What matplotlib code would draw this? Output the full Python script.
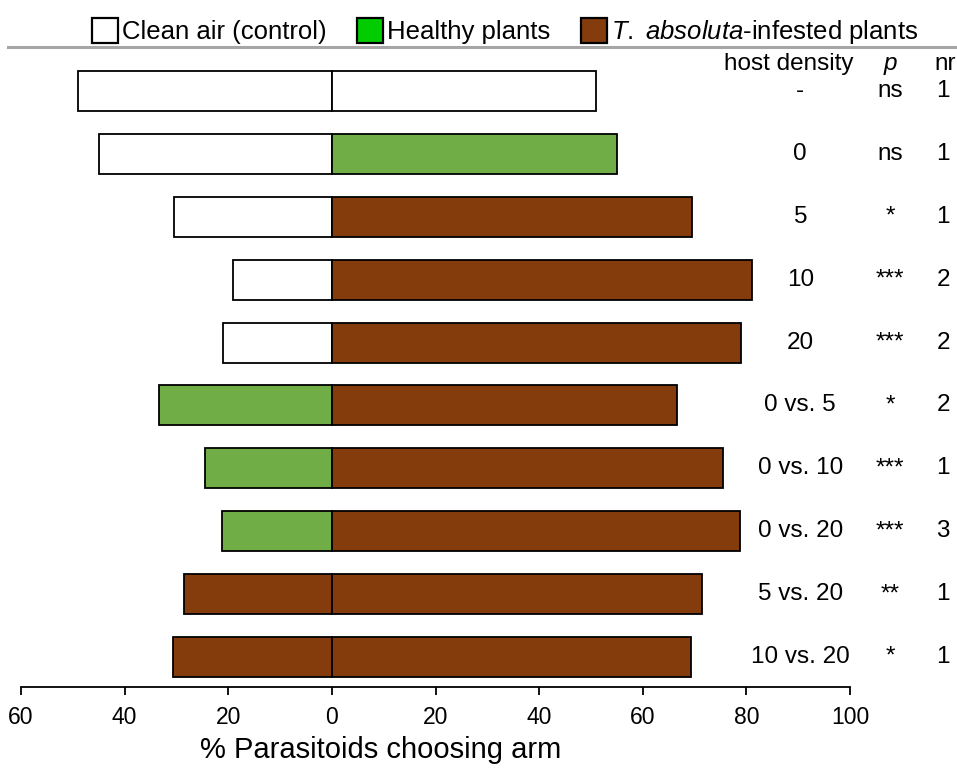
import matplotlib.pyplot as plt
from matplotlib.patches import Patch
from matplotlib.lines import Line2D

plt.rcParams['font.family'] = ['Liberation Sans', 'DejaVu Sans']
plt.rcParams['mathtext.fontset'] = 'custom'
plt.rcParams['mathtext.it'] = 'Liberation Sans:italic'
plt.rcParams['mathtext.rm'] = 'Liberation Sans'

# host density comparisons, top to bottom
density = ['-', '0', '5', '10', '20', '0 vs. 5', '0 vs. 10', '0 vs. 20', '5 vs. 20', '10 vs. 20']
left_pct = [49, 45, 30.5, 19, 21, 33.3, 24.5, 21.2, 28.6, 30.6]
right_pct = [51, 55, 69.5, 81, 79, 66.7, 75.5, 78.8, 71.4, 69.4]
left_odour = ['control', 'control', 'control', 'control', 'control',
              'healthy', 'healthy', 'healthy', 'infested', 'infested']
right_odour = ['control', 'healthy', 'infested', 'infested', 'infested',
               'infested', 'infested', 'infested', 'infested', 'infested']
p_value = ['ns', 'ns', '*', '***', '***', '*', '***', '***', '**', '*']
nr = ['1', '1', '1', '2', '2', '2', '1', '3', '1', '1']

colors = {'control': 'white', 'healthy': '#70AD47', 'infested': '#843C0C'}

fig = plt.figure(figsize=(9.57, 7.69), dpi=100)
ax = fig.add_axes([21 / 957, 82 / 769, 829 / 957, 627 / 769])

y = list(range(len(density)))
ax.barh(y, [-v for v in left_pct], height=0.635, color=[colors[k] for k in left_odour],
        edgecolor='black', linewidth=1.3)
ax.barh(y, right_pct, height=0.635, color=[colors[k] for k in right_odour],
        edgecolor='black', linewidth=1.3)

ax.set_xlim(-60, 100)
ax.set_ylim(9.477, -0.493)
ticks = list(range(-60, 101, 20))
ax.set_xticks(ticks)
ax.set_xticklabels([str(abs(t)) for t in ticks], fontsize=16.5)
ax.tick_params(axis='x', length=6, width=1.3, pad=8)
ax.set_yticks([])
for side in ['top', 'right', 'left']:
    ax.spines[side].set_visible(False)
ax.spines['bottom'].set_linewidth(1.3)

ax.set_xlabel('% Parasitoids choosing arm', fontsize=21)
ax.xaxis.set_label_coords(0.434, -0.078)

# right-hand columns
x_dens, x_p, x_nr = 90.4, 107.7, 118.0
ax.text(88.2, -0.43, 'host density', ha='center', va='center', fontsize=17.5, clip_on=False)
ax.text(x_p, -0.43, 'p', ha='center', va='center', fontsize=17.5, style='italic', clip_on=False)
ax.text(118.4, -0.43, 'nr', ha='center', va='center', fontsize=17.5, clip_on=False)
for i in y:
    ax.text(x_dens, i, density[i], ha='center', va='center', fontsize=17.5, clip_on=False)
    ax.text(x_p, i, p_value[i], ha='center', va='center', fontsize=17.5, clip_on=False)
    ax.text(x_nr, i, nr[i], ha='center', va='center', fontsize=17.5, clip_on=False)

handles = [Patch(facecolor='white', edgecolor='black', linewidth=1.6),
           Patch(facecolor='#00CC00', edgecolor='black', linewidth=1.6),
           Patch(facecolor='#843C0C', edgecolor='black', linewidth=1.6)]
labels = ['Clean air (control)', 'Healthy plants', r'$\mathit{T.}$ $\mathit{absoluta}$-infested plants']
fig.legend(handles, labels, loc='center', bbox_to_anchor=(0.528, 0.958), ncol=3,
           frameon=False, fontsize=18.5, handlelength=1.0, handleheight=1.1,
           handletextpad=0.15, columnspacing=1.2)

fig.add_artist(Line2D([8 / 957, 1.0], [1 - 47 / 769, 1 - 47 / 769],
                      color='#A6A6A6', linewidth=2.2))

fig.savefig('out.png', dpi=100)
